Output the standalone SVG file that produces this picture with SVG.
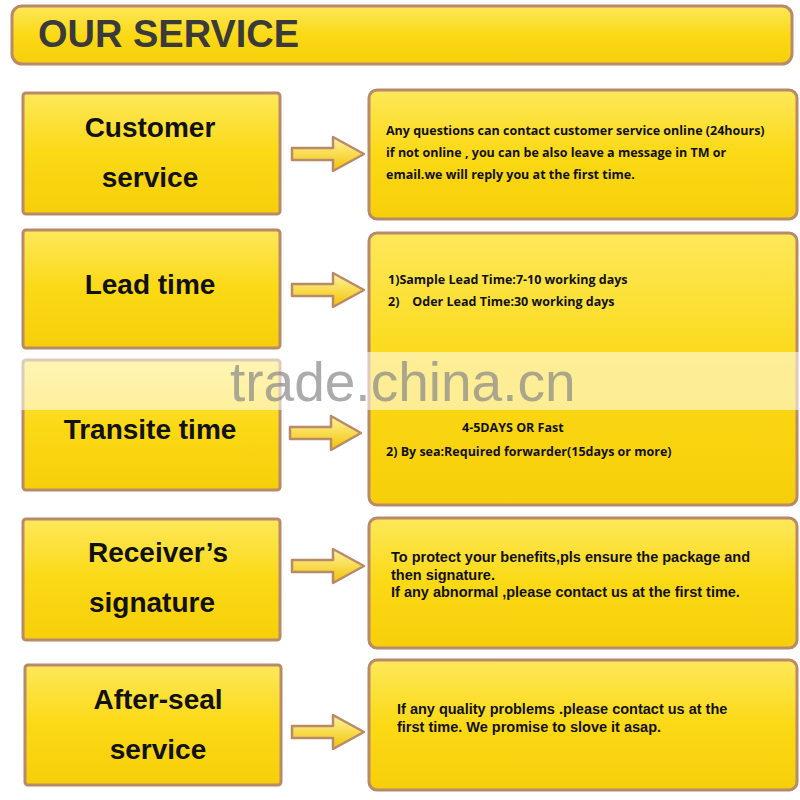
<svg xmlns="http://www.w3.org/2000/svg" width="800" height="800" viewBox="0 0 800 800">
<defs>
<linearGradient id="g" x1="0" y1="0" x2="0" y2="1"><stop offset="0" stop-color="#fde85a"/><stop offset="0.5" stop-color="#fbd915"/><stop offset="1" stop-color="#f6cf0a"/></linearGradient>
<linearGradient id="ga" x1="0" y1="0" x2="0" y2="1"><stop offset="0" stop-color="#fff3a0"/><stop offset="1" stop-color="#f2c400"/></linearGradient>
</defs>
<style>
.box{fill:url(#g);stroke:#b98a6a;stroke-width:3}
.lbl{font-family:"Liberation Sans",Arial,sans-serif;font-weight:bold;font-size:28px;fill:#111;text-anchor:middle}
.txt{font-family:"Open Sans","Liberation Sans",sans-serif;font-weight:bold;font-size:12.5px;fill:#111}
.t2{font-family:"Liberation Sans",Arial,sans-serif;font-weight:bold;font-size:14.5px;fill:#111}
.arr{fill:url(#ga);stroke:#b98a6a;stroke-width:2.5;stroke-linejoin:round}
</style>
<rect width="800" height="800" fill="#fff"/>
<g id="title"><rect x="12" y="6" width="780" height="58" rx="10" class="box" stroke="#e8c040"/>
<text x="38" y="47" font-family="Liberation Sans,Arial,sans-serif" font-weight="bold" font-size="38" fill="#3a3a3a">OUR SERVICE</text></g>
<g id="n1"><rect x="23" y="93" width="257" height="121" rx="3" class="box"/><text x="150" y="137" class="lbl">Customer</text><text x="150" y="187" class="lbl">service</text></g>
<g id="n2"><rect x="23" y="230" width="257" height="118" rx="3" class="box"/><text x="150" y="294" class="lbl">Lead time</text></g>
<g id="n3"><rect x="23" y="360" width="257" height="130" rx="3" class="box"/><text x="150" y="439" class="lbl">Transite time</text></g>
<g id="n4"><rect x="23" y="519" width="257" height="121" rx="3" class="box"/><text x="158" y="562" class="lbl">Receiver’s</text><text x="152" y="612" class="lbl">signature</text></g>
<g id="n5"><rect x="25" y="665" width="256" height="120" rx="3" class="box"/><text x="158" y="709" class="lbl">After-seal</text><text x="158" y="759" class="lbl">service</text></g>
<g id="d1"><rect x="369" y="90" width="428" height="129" rx="8" class="box"/>
<text class="txt" x="386" y="135">Any questions can contact customer service online (24hours)</text>
<text class="txt" x="386" y="157">if not online , you can be also leave a message in TM or</text>
<text class="txt" x="386" y="179">email.we will reply you at the first time.</text></g>
<g id="d2"><rect x="369" y="233" width="428" height="272" rx="8" class="box"/>
<text class="txt" x="388" y="284">1)Sample Lead Time:7-10 working days</text>
<text class="txt" x="388" y="306" xml:space="preserve">2)    Oder Lead Time:30 working days</text>
<text class="txt" x="462" y="432">4-5DAYS OR Fast</text>
<text class="txt" x="386" y="456">2) By sea:Required forwarder(15days or more)</text></g>
<g id="d4"><rect x="369" y="518" width="428" height="130" rx="8" class="box"/>
<text class="t2" x="391" y="562">To protect your benefits,pls ensure the package and</text>
<text class="t2" x="391" y="580">then signature.</text><text class="t2" x="391" y="597">If any abnormal ,please contact us at the first time.</text></g>
<g id="d5"><rect x="369" y="660" width="428" height="130" rx="8" class="box"/>
<text class="t2" x="397" y="714">If any quality problems .please contact us at the</text>
<text class="t2" x="397" y="732">first time. We promise to slove it asap.</text></g>
<g id="connectors">
<path class="arr" d="M292,148 H333 V137 L364,154 L333,171 V160 H292 Z"/>
<path class="arr" d="M292,284 H333 V273 L364,290 L333,307 V296 H292 Z"/>
<path class="arr" d="M290,427 H331 V416 L361,433 L331,450 V439 H290 Z"/>
<path class="arr" d="M292,560 H333 V549 L364,566 L333,583 V572 H292 Z"/>
<path class="arr" d="M292,726 H333 V715 L364,732 L333,749 V738 H292 Z"/>
</g>
<rect x="0" y="352" width="800" height="58" fill="#fff" opacity="0.55"/>
<text x="230" y="401" font-family="Liberation Sans,Arial,sans-serif" font-size="55" fill="#888" opacity="0.7">trade.china.cn</text>
</svg>
